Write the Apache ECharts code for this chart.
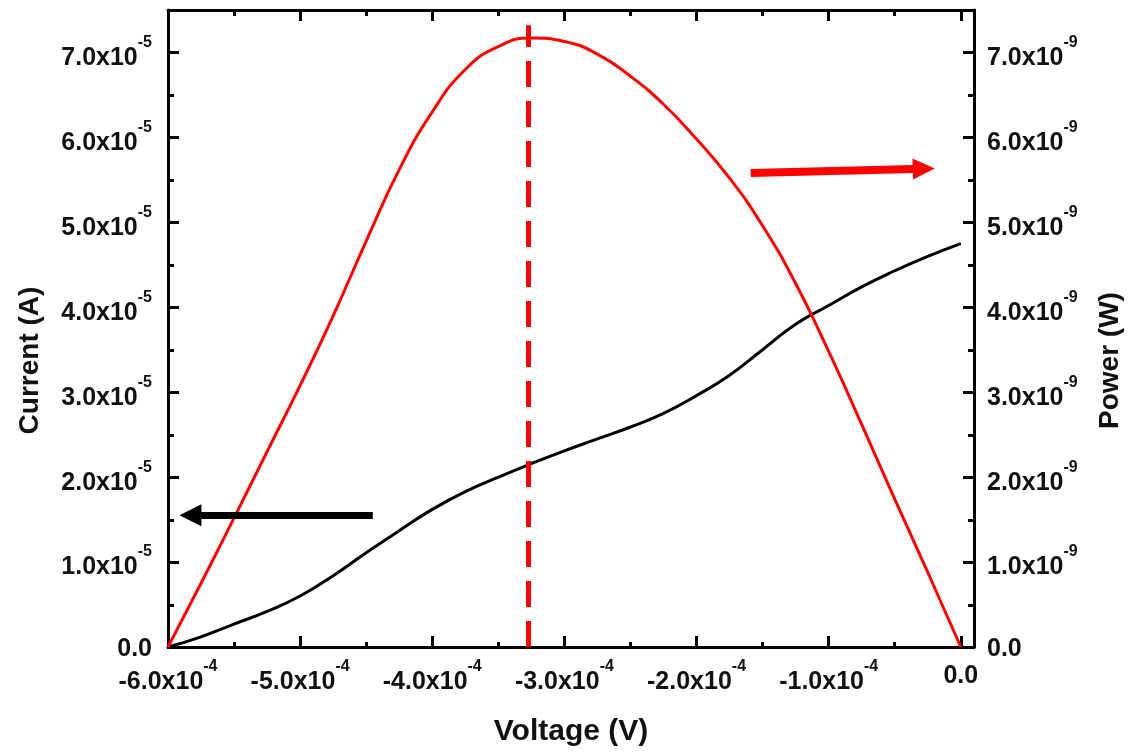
<!DOCTYPE html>
<html>
<head>
<meta charset="utf-8">
<script src="https://cdn.jsdelivr.net/npm/echarts@6/dist/echarts.min.js"></script>
<style>html,body{margin:0;padding:0;background:#fff;}#c{width:1139px;height:752px;}</style>
</head>
<body>
<div id="c"></div>
<script>
// ---- data ----
const voltage = [-6.00e-4,-5.75e-4,-5.50e-4,-5.25e-4,-5.00e-4,-4.75e-4,-4.50e-4,-4.25e-4,-4.00e-4,-3.75e-4,-3.50e-4,-3.25e-4,-3.00e-4,-2.75e-4,-2.50e-4,-2.25e-4,-2.00e-4,-1.75e-4,-1.50e-4,-1.25e-4,-1.00e-4,-0.75e-4,-0.50e-4,-0.25e-4,0];
const current = [0,0.12e-5,0.27e-5,0.42e-5,0.60e-5,0.84e-5,1.11e-5,1.37e-5,1.62e-5,1.83e-5,2.00e-5,2.16e-5,2.31e-5,2.45e-5,2.59e-5,2.75e-5,2.96e-5,3.20e-5,3.50e-5,3.80e-5,4.02e-5,4.24e-5,4.43e-5,4.60e-5,4.75e-5];
const power = [0,0.75e-9,1.52e-9,2.30e-9,3.08e-9,3.90e-9,4.78e-9,5.62e-9,6.30e-9,6.80e-9,7.07e-9,7.17e-9,7.13e-9,6.98e-9,6.72e-9,6.39e-9,5.98e-9,5.52e-9,4.96e-9,4.28e-9,3.48e-9,2.62e-9,1.74e-9,0.88e-9,0];
const xMajorTicks = [-6e-4,-5e-4,-4e-4,-3e-4,-2e-4,-1e-4,0];
const xMinorTicks = [-5.5e-4,-4.5e-4,-3.5e-4,-2.5e-4,-1.5e-4,-0.5e-4];
const currentMajorTicks = [0,1e-5,2e-5,3e-5,4e-5,5e-5,6e-5,7e-5];
const currentMinorTicks = [0.5e-5,1.5e-5,2.5e-5,3.5e-5,4.5e-5,5.5e-5,6.5e-5];
const powerMajorTicks = [0,1e-9,2e-9,3e-9,4e-9,5e-9,6e-9,7e-9];
const powerMinorTicks = [0.5e-9,1.5e-9,2.5e-9,3.5e-9,4.5e-9,5.5e-9,6.5e-9];
const peakVoltage = -3.27e-4;
const peakLineTop = 7.32e-9;
const currentArrow = [[-4.45e-4,1.55e-5],[-5.83e-4,1.55e-5]];
const powerArrow = [[-1.59e-4,5.58e-9],[-0.28e-4,5.63e-9]];

const FONT = '"Liberation Sans", Arial, sans-serif';
const xRange = [-6e-4, 1e-5];
const currentRange = [0, 7.5e-5];
const powerRange = [0, 7.5e-9];

function sci(v, exp){
  if (Math.abs(v) < 1e-20) return '{z|0.0}';
  const m = (v / Math.pow(10, exp)).toFixed(1);
  return '{b|' + m + 'x10}{s|' + exp + '}';
}
const rich = {
  b: {fontSize: 25, fontWeight: 'bold', fontFamily: FONT, color: '#111', lineHeight: 36, verticalAlign: 'bottom'},
  s: {fontSize: 16, fontWeight: 'bold', fontFamily: FONT, color: '#111', lineHeight: 16, verticalAlign: 'top'},
  z: {fontSize: 25, fontWeight: 'bold', fontFamily: FONT, color: '#111', lineHeight: 30, verticalAlign: 'bottom'}
};
const nameStyleX = {fontSize: 30, fontWeight: 'bold', fontFamily: FONT, color: '#111'};
const nameStyleY = {fontSize: 28, fontWeight: 'bold', fontFamily: FONT, color: '#111', padding: [0, 64, 0, 0]};
const line = {show: true, onZero: false, lineStyle: {color: '#000', width: 3}};
const noLine = {show: false, onZero: false};
function ticks(vals, len){ return {show: true, inside: true, length: len, customValues: vals, lineStyle: {color: '#000', width: 3}}; }

const gridRect = {left: 168, right: 165, top: 10, bottom: 104, containLabel: false};

const option = {
  animation: false,
  backgroundColor: '#fff',
  grid: [Object.assign({}, gridRect), Object.assign({}, gridRect)],
  xAxis: [
    {type: 'value', gridIndex: 0, position: 'bottom', min: xRange[0], max: xRange[1],
     axisLine: line, axisTick: ticks(xMajorTicks, 11), splitLine: {show: false},
     axisLabel: {customValues: xMajorTicks, margin: 12, formatter: v => sci(v, -4), rich: rich},
     name: 'Voltage (V)', nameLocation: 'middle', nameGap: 70, nameTextStyle: nameStyleX},
    {type: 'value', gridIndex: 0, position: 'top', min: xRange[0], max: xRange[1],
     axisLine: line, axisTick: ticks(xMajorTicks, 11), splitLine: {show: false}, axisLabel: {show: false}},
    {type: 'value', gridIndex: 1, position: 'bottom', min: xRange[0], max: xRange[1],
     axisLine: noLine, axisTick: ticks(xMinorTicks, 6), splitLine: {show: false}, axisLabel: {show: false}},
    {type: 'value', gridIndex: 1, position: 'top', min: xRange[0], max: xRange[1],
     axisLine: noLine, axisTick: ticks(xMinorTicks, 6), splitLine: {show: false}, axisLabel: {show: false}}
  ],
  yAxis: [
    {type: 'value', gridIndex: 0, position: 'left', min: currentRange[0], max: currentRange[1],
     axisLine: line, axisTick: ticks(currentMajorTicks, 11), splitLine: {show: false},
     axisLabel: {customValues: currentMajorTicks, margin: 16, formatter: v => sci(v, -5), rich: rich},
     name: 'Current (A)', nameLocation: 'middle', nameGap: 124, nameRotate: 90, nameTextStyle: nameStyleY},
    {type: 'value', gridIndex: 0, position: 'right', min: powerRange[0], max: powerRange[1],
     axisLine: line, axisTick: ticks(powerMajorTicks, 11), splitLine: {show: false},
     axisLabel: {customValues: powerMajorTicks, margin: 13, formatter: v => sci(v, -9), rich: rich},
     name: 'Power (W)', nameLocation: 'middle', nameGap: 122, nameRotate: 90, nameTextStyle: nameStyleY},
    {type: 'value', gridIndex: 1, position: 'left', min: currentRange[0], max: currentRange[1],
     axisLine: noLine, axisTick: ticks(currentMinorTicks, 6), splitLine: {show: false}, axisLabel: {show: false}},
    {type: 'value', gridIndex: 1, position: 'right', min: powerRange[0], max: powerRange[1],
     axisLine: noLine, axisTick: ticks(powerMinorTicks, 6), splitLine: {show: false}, axisLabel: {show: false}}
  ],
  series: [
    {name: 'Current', type: 'line', xAxisIndex: 0, yAxisIndex: 0, smooth: 0.5, showSymbol: false,
     lineStyle: {color: '#000', width: 3}, z: 3,
     data: voltage.map((v, i) => [v, current[i]]),
     markLine: {silent: true, symbol: ['none', 'triangle'], symbolSize: [22, 22],
       label: {show: false}, lineStyle: {color: '#000', width: 7, type: 'solid'},
       data: [[{coord: currentArrow[0]}, {coord: currentArrow[1]}]]}},
    {name: 'Power', type: 'line', xAxisIndex: 0, yAxisIndex: 1, smooth: 0.5, showSymbol: false,
     lineStyle: {color: '#ff0000', width: 3}, z: 3,
     data: voltage.map((v, i) => [v, power[i]]),
     markLine: {silent: true, symbol: ['none', 'triangle'], symbolSize: [21, 22],
       label: {show: false}, emphasis: {disabled: true},
       data: [
         [{coord: [peakVoltage, 0], lineStyle: {color: '#ff0000', width: 5, type: [26, 14]}, symbol: 'none'},
          {coord: [peakVoltage, peakLineTop], symbol: 'none'}],
         [{coord: powerArrow[0], lineStyle: {color: '#ff0000', width: 8, type: 'solid'}},
          {coord: powerArrow[1]}]
       ]}}
  ]
};
const chart = echarts.init(document.getElementById('c'), null, {renderer: 'canvas'});
chart.setOption(option);
</script>
</body>
</html>
